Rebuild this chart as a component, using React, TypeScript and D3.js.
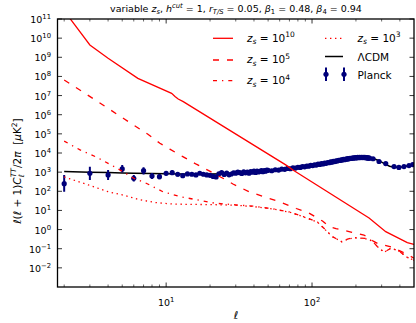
import React from 'react';
import * as d3 from 'd3';

const W = 416;
const H = 323;

// ---------- data ----------
// z_s = 10^10 (solid)
const z10Ell = [2, 3, 4, 6.4, 10.9, 11.5, 12.1, 13.1, 66, 74, 246, 320, 450, 500];
const z10Val = [2.7e11, 4.4e9, 8.9e8, 7.9e7, 1.3e7, 8.9e6, 6.6e6, 4.8e6, 2400, 1300, 4.0, 0.78, 0.21, 0.166];

// z_s = 10^5 (dashed)
const z5Ell = [2, 3.35, 5.08, 7.5, 9.06, 10.6, 13.1, 16.1, 19.9, 24.5, 28.7, 37, 47, 60, 78, 95, 118, 131, 146, 185, 227, 265, 281, 355, 450, 500];
const z5Val = [6.5e7, 5.2e6, 6.5e5, 9.5e4, 3.2e4, 1.6e4, 6300, 2600, 1120, 480, 240, 95, 52, 28, 12.6, 7.4, 2.8, 1.41, 1.12, 0.74, 0.52, 0.24, 0.19, 0.12, 0.05, 0.032];

// z_s = 10^4 (dash-dot)
const z4Ell = [2, 2.57, 3.3, 4.5, 6, 7.3, 9.5, 12.6, 14.1, 21.5, 30, 40, 54, 70, 87, 109, 138, 160, 175, 195, 231, 260, 280, 312, 350, 400, 450, 500];
const z4Val = [4.2e4, 1.45e4, 6300, 1780, 480, 263, 95, 52, 44, 24, 19.5, 16.6, 12, 8.3, 4.8, 2.5, 0.43, 0.23, 0.32, 0.38, 0.35, 0.25, 0.13, 0.066, 0.11, 0.07, 0.035, 0.025];

// z_s = 10^3 (dotted)
const z3Ell = [2, 2.38, 2.93, 3.4, 4, 5, 6.45, 8.4, 10.9, 13, 21.5, 30, 40, 54, 70, 87, 109, 138, 160, 175, 195, 231, 260, 280, 312, 350, 400, 450, 500];
const z3Val = [560, 363, 214, 145, 95, 65, 38, 25.7, 21.9, 20.9, 20, 18.6, 15.8, 11.8, 8.2, 4.7, 2.45, 0.42, 0.23, 0.31, 0.37, 0.34, 0.25, 0.13, 0.065, 0.11, 0.07, 0.035, 0.025];

// Lambda CDM
const lcdmEll = [2, 3, 4, 5, 6, 8, 10, 13, 16, 20, 25, 30, 40, 50, 60, 70, 80, 90, 100, 120, 140, 160, 180, 200, 210, 220, 230, 240, 250, 260, 280, 300, 320, 340, 360, 380, 400, 420, 440, 460, 480, 500];
const lcdmVal = [1070, 1000, 950, 910, 880, 850, 830, 810, 800, 800, 820, 850, 950, 1080, 1230, 1390, 1570, 1760, 1960, 2420, 2940, 3560, 4280, 5050, 5380, 5640, 5780, 5760, 5600, 5300, 4350, 3350, 2550, 2050, 1840, 1780, 1810, 1900, 2050, 2230, 2400, 2520];

// Planck data
const planckEll = [
  2, 3, 4, 5, 6, 7, 8, 9, 10, 11, 12, 13,
  14, 15, 16, 17, 18, 19, 20, 21, 22,
  23, 24, 25, 26, 27, 28, 29,
  30, 31, 32, 33, 34, 35, 36, 37, 38, 39, 40, 41, 42, 43, 44, 45, 46, 47, 48, 49,
  50, 53, 56, 59, 62, 65, 68, 71, 74, 77, 80, 83, 86, 89, 92, 95, 98, 101, 104, 107,
  110, 113, 116, 119, 122, 125, 128, 131, 134, 137, 140, 143, 146, 149, 152, 155, 158,
  161, 164, 167, 170, 173, 176, 179, 182, 185, 188, 191, 194, 197, 200, 203, 206, 209,
  212, 215, 218, 221, 224, 227, 230, 233, 236, 239, 242, 245, 248,
  262, 288, 320, 365, 394, 427, 462, 490,
];
const planckVal = [
  250, 877, 715, 1470, 479, 1200, 630, 582, 877, 942, 776, 657,
  805, 776, 715, 877, 776, 715, 680, 600, 560,
  820, 950, 760, 880, 720, 800, 930,
  880, 1000, 940, 850, 1050, 920, 1000, 880, 1080, 1000, 1120, 960, 1150, 1030, 1100, 1220, 1050, 1200, 1130, 1260,
  1240, 1180, 1330, 1290, 1450, 1400, 1560, 1500, 1700, 1640, 1800, 1760, 1960, 1900, 2080, 2050, 2250, 2200, 2420, 2350,
  2600, 2530, 2780, 2700, 2980, 2900, 3180, 3100, 3420, 3330, 3650, 3560, 3900, 3820, 4150, 4050, 4380,
  4280, 4620, 4500, 4850, 4750, 5050, 4950, 5280, 5150, 5450, 5350, 5600, 5500, 5720, 5600, 5850, 5720,
  5900, 5780, 5930, 5800, 5900, 5750, 5850, 5680, 5720, 5550, 5560, 5380, 5350,
  5000, 3600, 2800, 1950, 1760, 1950, 2200, 2480,
];
// error bars for the lowest multipoles (l = 2..12)
const planckErrLow = [96, 392, 390, 950, 322, 760, 440, 420, 640, 700, 590];
const planckErrHigh = [700, 1940, 1300, 2350, 715, 1800, 900, 800, 1150, 1230, 1000];

const xMajor = [10, 100];
const xMinor = [2, 3, 4, 5, 6, 7, 8, 9, 20, 30, 40, 50, 60, 70, 80, 90, 200, 300, 400];
const yExp = [-2, -1, 0, 1, 2, 3, 4, 5, 6, 7, 8, 9, 10, 11];

const RED = '#ff0000';
const NAVY = '#00007a';
const FONT = 'DejaVu Sans, sans-serif';

const L = 57.5, R = 414, T = 19, B = 287;

const x = d3.scaleLog().domain([1.8, 500]).range([L, R]);
const y = d3.scaleLog().domain([1e-3, 1e11]).range([B, T]);

const zip = (a: number[], b: number[]) => a.map((v, i) => [v, b[i]] as [number, number]);
const line = d3
  .line<[number, number]>()
  .x((d) => x(d[0]))
  .y((d) => y(d[1]));

type Seg = { t: string; it?: boolean; sz?: number; dy?: number; dx?: number };
const Rich = ({ segs }: { segs: Seg[] }) => (
  <>
    {segs.map((s, i) => (
      <tspan key={i} fontStyle={s.it ? 'italic' : undefined} fontSize={s.sz} dy={s.dy} dx={s.dx}>
        {s.t}
      </tspan>
    ))}
  </>
);

const zsLabel = (exp: string): Seg[] => [
  { t: 'z', it: true },
  { t: 's', it: true, sz: 7.5, dy: 2.5 },
  { t: ' = 10', dy: -2.5 },
  { t: exp, sz: 7.5, dy: -4.5 },
];

export default function App() {
  const series = [
    { d: zip(z10Ell, z10Val), dash: undefined },
    { d: zip(z5Ell, z5Val), dash: '6,8' },
    { d: zip(z4Ell, z4Val), dash: '4,5,1.3,5' },
    { d: zip(z3Ell, z3Val), dash: '1.4,3.6' },
  ];
  const planck = zip(planckEll, planckVal);

  return (
    <svg width={W} height={H} style={{ display: 'block', position: 'absolute', left: 0, top: 0 }} fontFamily={FONT}>
      <rect width={W} height={H} fill="#fff" />
      <defs>
        <clipPath id="plot">
          <rect x={L} y={T} width={R - L} height={B - T} />
        </clipPath>
      </defs>

      {/* title */}
      <text x={236} y={11.5} fontSize={9.5} textAnchor="middle" style={{ whiteSpace: 'pre' }}>
        <Rich
          segs={[
            { t: 'variable ' },
            { t: 'z', it: true },
            { t: 's', it: true, sz: 6.8, dy: 2 },
            { t: ', ', dy: -2 },
            { t: 'h', it: true },
            { t: 'cut', it: true, sz: 6.8, dy: -4 },
            { t: ' = 1, ', dy: 4 },
            { t: 'r', it: true },
            { t: 'T/S', it: true, sz: 6.8, dy: 2 },
            { t: ' = 0.05, ', dy: -2 },
            { t: 'β', it: true },
            { t: '1', sz: 6.8, dy: 2 },
            { t: ' = 0.48, ', dy: -2 },
            { t: 'β', it: true },
            { t: '4', sz: 6.8, dy: 2 },
            { t: ' = 0.94', dy: -2 },
          ]}
        />
      </text>

      <g clipPath="url(#plot)">
        <path d={line(zip(lcdmEll, lcdmVal)) || ''} fill="none" stroke="#000" strokeWidth={1.5} />
        {planckErrLow.map((lo, i) => (
          <line
            key={'e' + i}
            x1={x(planckEll[i])}
            x2={x(planckEll[i])}
            y1={y(lo)}
            y2={y(planckErrHigh[i])}
            stroke={NAVY}
            strokeWidth={2}
          />
        ))}
        {planck.map((d, i) => (
          <circle key={'p' + i} cx={x(d[0])} cy={y(d[1])} r={2.6} fill={NAVY} />
        ))}
        {series.map((s, i) => (
          <path key={'s' + i} d={line(s.d) || ''} fill="none" stroke={RED} strokeWidth={1.3} strokeDasharray={s.dash} />
        ))}
      </g>

      {/* frame */}
      <rect x={L} y={T} width={R - L} height={B - T} fill="none" stroke="#000" strokeWidth={1.3} />

      {/* x ticks */}
      {xMajor.map((v) => (
        <g key={'xM' + v}>
          <line x1={x(v)} x2={x(v)} y1={B} y2={B - 4.5} stroke="#000" strokeWidth={0.8} />
          <line x1={x(v)} x2={x(v)} y1={T} y2={T + 4.5} stroke="#000" strokeWidth={0.8} />
          <text x={x(v)} y={306} fontSize={9.5} textAnchor="middle">
            <Rich segs={[{ t: '10' }, { t: String(Math.round(Math.log10(v))), sz: 6.8, dy: -4 }]} />
          </text>
        </g>
      ))}
      {xMinor.map((v) => (
        <g key={'xm' + v}>
          <line x1={x(v)} x2={x(v)} y1={B} y2={B - 2.5} stroke="#000" strokeWidth={0.6} />
          <line x1={x(v)} x2={x(v)} y1={T} y2={T + 2.5} stroke="#000" strokeWidth={0.6} />
        </g>
      ))}

      {/* y ticks */}
      {yExp.map((e) => {
        const yy = y(Math.pow(10, e));
        return (
          <g key={'y' + e}>
            <line x1={L} x2={L + 4.5} y1={yy} y2={yy} stroke="#000" strokeWidth={0.8} />
            <line x1={R} x2={R - 4.5} y1={yy} y2={yy} stroke="#000" strokeWidth={0.8} />
            <text x={51} y={yy + 4} fontSize={9.5} textAnchor="end">
              <Rich segs={[{ t: '10' }, { t: e < 0 ? '−' + Math.abs(e) : String(e), sz: 6.8, dy: -4 }]} />
            </text>
          </g>
        );
      })}

      {/* axis labels */}
      <text x={236} y={319} fontSize={11} textAnchor="middle" fontStyle="italic">
        ℓ
      </text>
      <text
        transform="translate(21,171) rotate(-90)"
        fontSize={10.5}
        textAnchor="middle"
        style={{ whiteSpace: 'pre' }}
      >
        <Rich
          segs={[
            { t: 'ℓ', it: true },
            { t: '(' },
            { t: 'ℓ', it: true },
            { t: ' + 1)' },
            { t: 'C', it: true },
            { t: 'ℓ', it: true, sz: 7.5, dy: 3 },
            { t: 'TT', it: true, sz: 7.5, dy: -8, dx: -3 },
            { t: '/2', dy: 5 },
            { t: 'π', it: true },
            { t: '  [' },
            { t: 'μ', it: true },
            { t: 'K' },
            { t: '2', sz: 7.5, dy: -4 },
            { t: ']', dy: 4 },
          ]}
        />
      </text>

      {/* legend */}
      <g fontSize={10.5} style={{ whiteSpace: 'pre' }}>
        <line x1={213} x2={233} y1={38.3} y2={38.3} stroke={RED} strokeWidth={1.3} />
        <text x={247} y={41.5}>
          <Rich segs={zsLabel('10')} />
        </text>
        <line x1={213} x2={233} y1={60} y2={60} stroke={RED} strokeWidth={1.3} strokeDasharray="6,8" />
        <text x={247} y={63}>
          <Rich segs={zsLabel('5')} />
        </text>
        <line x1={213} x2={233} y1={80.7} y2={80.7} stroke={RED} strokeWidth={1.3} strokeDasharray="4,5,1.3,5" />
        <text x={247} y={84}>
          <Rich segs={zsLabel('4')} />
        </text>

        <line x1={325} x2={343} y1={38.3} y2={38.3} stroke={RED} strokeWidth={1.3} strokeDasharray="1.4,3.6" />
        <text x={357.5} y={41.5}>
          <Rich segs={zsLabel('3')} />
        </text>
        <line x1={325} x2={343} y1={56.5} y2={56.5} stroke="#000" strokeWidth={1.5} />
        <text x={357.5} y={60.5}>ΛCDM</text>
        {[326, 344].map((cx) => (
          <g key={cx}>
            <line x1={cx} x2={cx} y1={67.5} y2={81} stroke={NAVY} strokeWidth={2} />
            <circle cx={cx} cy={74.3} r={2.6} fill={NAVY} />
          </g>
        ))}
        <text x={357.5} y={78.5}>Planck</text>
      </g>
    </svg>
  );
}
